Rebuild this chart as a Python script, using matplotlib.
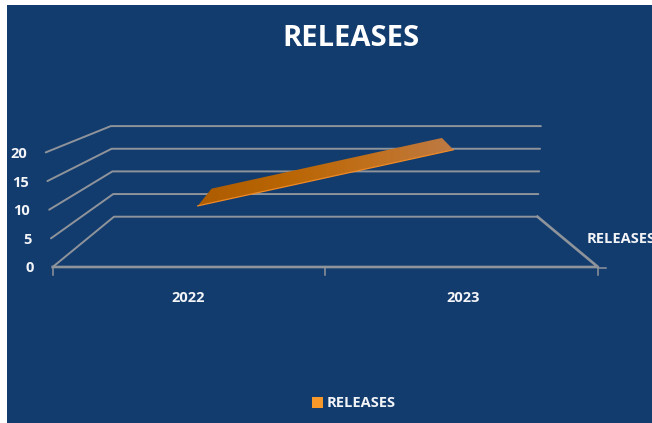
import numpy as np
import matplotlib
matplotlib.use('Agg')
import matplotlib.pyplot as plt
from matplotlib.colors import LinearSegmentedColormap
from matplotlib.patches import Polygon, Rectangle

# chart data
categories = ['2022', '2023']
releases = [10, 20]
y_ticks = [0, 5, 10, 15, 20]
series_name = 'RELEASES'

BG = '#133c6e'
GRID = '#8f949b'
TEXT = '#f2f4f7'
FONT = 'Open Sans'


# fake 3D box in pixels, depth 0 is the front, depth 1 the back wall
def project(u, v, depth):
    left = (52.7 - 0.35 * v) * (1 - depth) + (114 - 0.16 * v) * depth
    right = 598 * (1 - depth) + (537.5 + 0.17 * v) * depth
    front_y = 267 - 5.73 * v
    back_y = 216.7 - 4.53 * v
    x = left + (right - left) * u
    y = front_y + (back_y - front_y) * depth
    return x, y


fig = plt.figure(figsize=(6.52, 4.23), dpi=100, facecolor='white')
ax = fig.add_axes([0, 0, 1, 1])
ax.set_xlim(0, 652)
ax.set_ylim(423, 0)
ax.axis('off')

# chart area, white strip on the left and top
ax.add_patch(Rectangle((7, 5), 645, 418, facecolor=BG, edgecolor='none', zorder=0))

# gridlines on side wall and back wall
for v in y_ticks:
    pts = [project(0, v, 0), project(0, v, 1), project(1, v, 1)]
    ax.plot(*zip(*pts), color=GRID, lw=1.4, zorder=1, solid_capstyle='round')
    x0, y0 = project(0, v, 0)
    ax.text(x0 - 19, y0 + 1.5, str(v), ha='right', va='center', color=TEXT,
            fontsize=10.5, fontweight='bold', family=FONT)

# floor
floor = [project(0, 0, 0), project(1, 0, 0), project(1, 0, 1)]
ax.plot(*zip(*floor), color=GRID, lw=1.9, zorder=1)
for u in [0, 0.5, 1]:
    x, y = project(u, 0, 0)
    ax.plot([x, x], [y, y + 8], color=GRID, lw=1.1, zorder=1)
x, y = project(1, 0, 0)
ax.plot([x, x + 8], [y + 1, y + 1], color=GRID, lw=1.1, zorder=1)

# ribbon for the series
cat_u = [0.265, 0.743]
d_front, d_back = 0.1, 0.55
ribbon = [project(cat_u[0], releases[0], d_front),
          project(cat_u[1], releases[1], d_front),
          project(cat_u[1], releases[1], d_back),
          project(cat_u[0], releases[0], d_back)]
xs, ys = zip(*ribbon)
cmap = LinearSegmentedColormap.from_list(
    'ribbon', ['#ad5c00', '#b96504', '#c1701c', '#bd7a45'])
im = ax.imshow(np.linspace(0, 1, 256).reshape(1, -1), cmap=cmap, aspect='auto',
               extent=[min(xs), max(xs), max(ys), min(ys)], zorder=2)
ax.set_xlim(0, 652)
ax.set_ylim(423, 0)
poly = Polygon(ribbon, closed=True, facecolor='none', edgecolor='none', transform=ax.transData)
ax.add_patch(poly)
im.set_clip_path(poly)
ax.plot(xs[:2], ys[:2], color='#f08a24', lw=0.9, zorder=3)

# text
ax.text(350.5, 39, series_name, ha='center', va='center', color='white',
        fontsize=21, fontweight='bold', family=FONT)
for u, label in zip([0.248, 0.752], categories):
    ax.text(project(u, 0, 0)[0], 298, label, ha='center', va='center', color=TEXT,
            fontsize=10.5, fontweight='bold', family=FONT)
ax.text(587, 239, series_name, ha='left', va='center', color=TEXT,
        fontsize=10.5, fontweight='bold', family=FONT, clip_on=True)

# legend
ax.add_patch(Rectangle((312, 397), 11, 11, facecolor='#f7982a', edgecolor='none', zorder=2))
ax.text(327, 403, series_name, ha='left', va='center', color=TEXT,
        fontsize=10.5, fontweight='bold', family=FONT)

fig.savefig('out.png', dpi=100, facecolor='white')
